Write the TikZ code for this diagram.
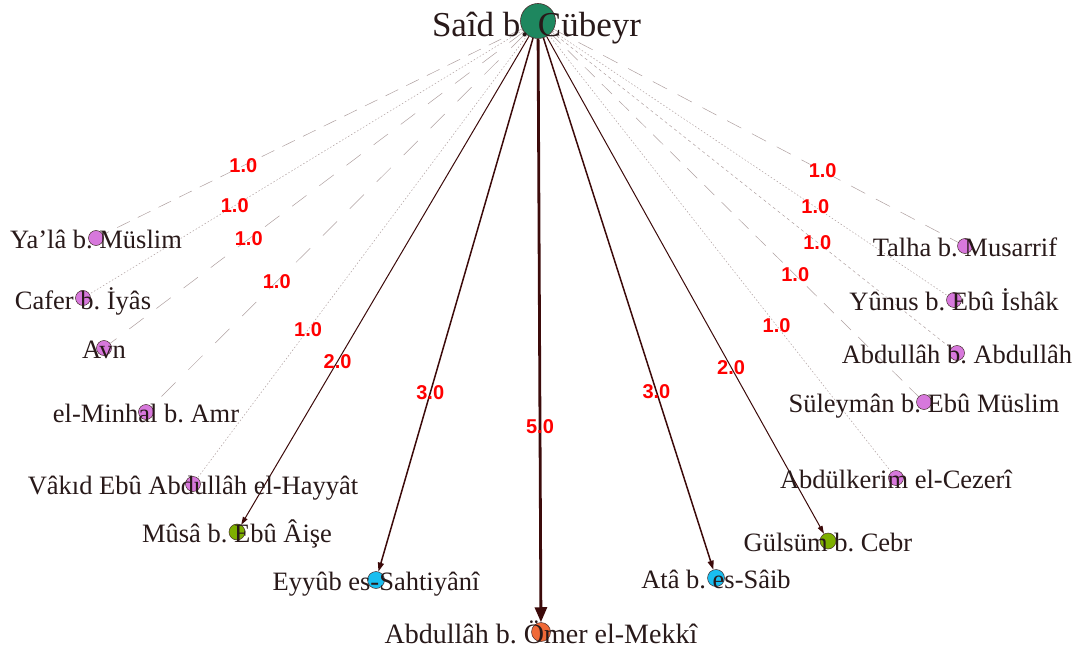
\documentclass[tikz,border=0pt]{standalone}
\usepackage{fontspec}
\setmainfont{Liberation Serif}
\setsansfont{Liberation Sans}
\usetikzlibrary{arrows.meta, backgrounds}
\frenchspacing

\definecolor{hubgreen}{RGB}{30,135,95}
\definecolor{narrpurple}{RGB}{215,120,220}
\definecolor{narrolive}{RGB}{125,175,0}
\definecolor{narrcyan}{RGB}{25,190,240}
\definecolor{narrcoral}{RGB}{240,105,55}
\definecolor{nodeline}{RGB}{70,45,45}
\definecolor{txt}{RGB}{40,25,25}
\definecolor{weakgray}{RGB}{175,160,160}
\definecolor{strongbrown}{RGB}{60,10,10}

\begin{document}
\begin{tikzpicture}[x=1pt, y=-1pt,
    hub/.style={circle, draw=nodeline, line width=0.6pt, fill=hubgreen, minimum size=35pt, inner sep=0pt},
    narr/.style={circle, draw=nodeline, line width=0.5pt, minimum size=15pt, inner sep=0pt},
    lbl/.style={font=\fontsize{26.5}{28}\selectfont, text=txt, inner sep=0pt, anchor=base, yshift=-10pt},
    weak/.style={draw=weakgray, line width=0.5pt},
    strong/.style={draw=strongbrown},
    wt/.style={font=\sffamily\bfseries\fontsize{20}{20}\selectfont, text=red, inner sep=0pt}
]
\useasboundingbox (0,0) rectangle (1079,655);

% Central narrator
\node[hub] (said) at (538,21) {};

% Narrators on the left
\node[narr, fill=narrpurple] (yala) at (96,238) {};
\node[narr, fill=narrpurple] (cafer) at (83,298) {};
\node[narr, fill=narrpurple] (avn) at (104,348) {};
\node[narr, fill=narrpurple] (minhal) at (146,412) {};
\node[narr, fill=narrpurple] (vakid) at (193,484) {};
\node[narr, fill=narrolive, minimum size=16pt] (musa) at (237,532) {};
\node[narr, fill=narrcyan, minimum size=17pt] (eyyub) at (376,580) {};

% Bottom
\node[narr, fill=narrcoral, minimum size=19pt] (mekki) at (541,632) {};

% Narrators on the right
\node[narr, fill=narrcyan, minimum size=17pt] (ata) at (716,578) {};
\node[narr, fill=narrolive, minimum size=16pt] (gulsum) at (828,541) {};
\node[narr, fill=narrpurple] (cezeri) at (896,478) {};
\node[narr, fill=narrpurple] (suleyman) at (924,402) {};
\node[narr, fill=narrpurple] (abdullah) at (957,353) {};
\node[narr, fill=narrpurple] (yunus) at (954,300) {};
\node[narr, fill=narrpurple] (talha) at (965,246) {};

% Names, printed over the circles
\node[lbl, font=\fontsize{35}{36}\selectfont, xshift=-1.5pt, yshift=-6pt] (said-t) at (said) {Saîd b. Cübeyr};
\node[lbl] (yala-t) at (yala) {Ya’lâ b. Müslim};
\node[lbl, yshift=-1pt] (cafer-t) at (cafer) {Cafer b. İyâs};
\node[lbl] (avn-t) at (avn) {Avn};
\node[lbl] (minhal-t) at (minhal) {el-Minhal b. Amr};
\node[lbl] (vakid-t) at (vakid) {Vâkıd Ebû Abdullâh el-Hayyât};
\node[lbl] (musa-t) at (musa) {Mûsâ b. Ebû Âişe};
\node[lbl] (eyyub-t) at (eyyub) {Eyyûb es-Sahtiyânî};
\node[lbl, font=\fontsize{28}{30}\selectfont, yshift=-1pt] (mekki-t) at (mekki) {Abdullâh b. Ömer el-Mekkî};
\node[lbl] (ata-t) at (ata) {Atâ b. es-Sâib};
\node[lbl] (gulsum-t) at (gulsum) {Gülsüm b. Cebr};
\node[lbl] (cezeri-t) at (cezeri) {Abdülkerim el-Cezerî};
\node[lbl] (suleyman-t) at (suleyman) {Süleymân b. Ebû Müslim};
\node[lbl] (abdullah-t) at (abdullah) {Abdullâh b. Abdullâh};
\node[lbl] (yunus-t) at (yunus) {Yûnus b. Ebû İshâk};
\node[lbl] (talha-t) at (talha) {Talha b. Musarrif};

% Edges behind the nodes
\begin{scope}[on background layer]
\draw[weak, dash pattern=on 14pt off 9pt] (said) -- node[wt, pos=0.665] {1.0} (yala);
\draw[weak, dash pattern=on 1.5pt off 2pt] (said) -- node[wt, pos=0.665] {1.0} (cafer);
\draw[weak, dash pattern=on 18pt off 16pt] (said) -- node[wt, pos=0.665] {1.0} (avn);
\draw[weak, dash pattern=on 20pt off 18pt] (said) -- node[wt, pos=0.665] {1.0} (minhal);
\draw[weak, dash pattern=on 1.5pt off 2pt] (said) -- node[wt, pos=0.665] {1.0} (vakid);
\draw[strong, line width=1pt, -{Triangle[length=8pt, width=5pt]}] (said) -- node[wt, pos=0.665] {2.0} (musa);
\draw[strong, line width=1.5pt, -{Triangle[length=9pt, width=6pt]}] (said) -- node[wt, pos=0.665] {3.0} (eyyub);
\draw[strong, line width=2.8pt, -{Triangle[length=15pt, width=12pt]}] (said) -- node[wt, pos=0.665] {5.0} (mekki);
\draw[strong, line width=1.5pt, -{Triangle[length=9pt, width=6pt]}] (said) -- node[wt, pos=0.665] {3.0} (ata);
\draw[strong, line width=1pt, -{Triangle[length=8pt, width=5pt]}] (said) -- node[wt, pos=0.665] {2.0} (gulsum);
\draw[weak, dash pattern=on 1.5pt off 2pt] (said) -- node[wt, pos=0.665] {1.0} (cezeri);
\draw[weak, dash pattern=on 14pt off 10pt] (said) -- node[wt, pos=0.665] {1.0} (suleyman);
\draw[weak, dash pattern=on 3pt off 3pt] (said) -- node[wt, pos=0.665] {1.0} (abdullah);
\draw[weak, dash pattern=on 1.5pt off 2pt] (said) -- node[wt, pos=0.665] {1.0} (yunus);
\draw[weak, dash pattern=on 16pt off 12pt] (said) -- node[wt, pos=0.665] {1.0} (talha);
\end{scope}

\end{tikzpicture}
\end{document}
